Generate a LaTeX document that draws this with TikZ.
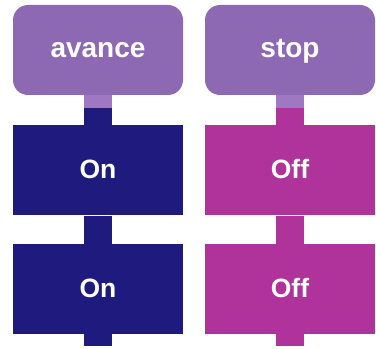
\documentclass[tikz,border=0pt]{standalone}
\usepackage{fontspec}
\setmainfont{Liberation Sans}
\usepackage{xcolor}
\usetikzlibrary{positioning}
\definecolor{cmdpurple}{HTML}{8E69B3}
\definecolor{linkpurple}{HTML}{9E78C0}
\definecolor{onblue}{HTML}{1F1B7E}
\definecolor{offpink}{HTML}{B0329B}

\begin{document}
\begin{tikzpicture}[x=1pt,y=1pt,
  cmd/.style={fill=cmdpurple,rounded corners=15pt,minimum width=170pt,minimum height=90pt,
    inner sep=0pt,text=white,text height=20pt,text depth=4pt,font=\bfseries\fontsize{28}{28}\selectfont},
  val/.style={fill=#1,minimum width=170pt,minimum height=90pt,
    inner sep=0pt,text=white,text height=20pt,text depth=3pt,font=\bfseries\fontsize{26.5}{26.5}\selectfont},
  stem/.style={line width=28pt}]
\useasboundingbox (0,0) rectangle (376,349);
\node[cmd](avance) at (98,299){avance};
\node[cmd](stop) at (290,299){stop};
\node[val=onblue,below=30pt of avance](on1){On};
\node[val=onblue,below=28pt of on1](on2){On};
\node[val=offpink,below=30pt of stop](off1){Off};
\node[val=offpink,below=28pt of off1](off2){Off};
\coordinate[below=12pt of on2](endon);
\coordinate[below=12pt of off2](endoff);
% stems joining the blocks
\draw[stem,onblue](avance)--(on1);
\draw[stem,linkpurple](avance.south)--++(0,-13);
\draw[stem,onblue](on1)--(on2);
\draw[stem,onblue](on2.south)--(endon);
\draw[stem,offpink](stop)--(off1);
\draw[stem,linkpurple](stop.south)--++(0,-13);
\draw[stem,offpink](off1)--(off2);
\draw[stem,offpink](off2.south)--(endoff);
\end{tikzpicture}
\end{document}
